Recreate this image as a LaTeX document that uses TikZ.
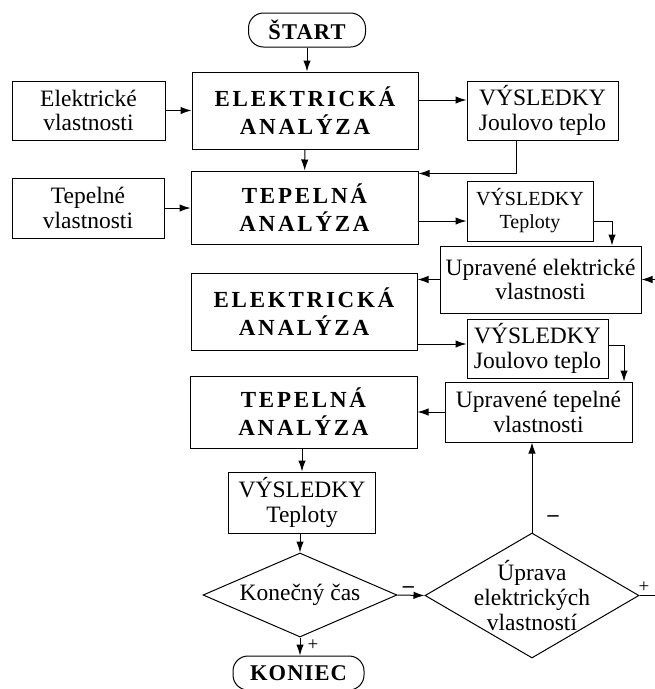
\documentclass[tikz,border=0pt]{standalone}
\usepackage{fontspec}
\setmainfont{Liberation Serif}
\newfontfamily\headfont[LetterSpace=12]{Liberation Serif}
\newfontfamily\termfont[LetterSpace=5]{Liberation Serif}
\usetikzlibrary{arrows.meta,shapes.geometric,calc,positioning}
\tikzset{
  box/.style 2 args={draw, line width=1pt, align=center, inner sep=0pt,
              minimum width=#1, minimum height=#2,
              font=\fontsize{23.5}{24.5}\selectfont},
  ana/.style 2 args={box={#1}{#2},
              font=\headfont\bfseries\fontsize{23}{28}\selectfont},
  term/.style={draw, line width=1pt, rounded corners=15pt, inner sep=0pt,
              minimum width=#1, minimum height=34pt,
              font=\termfont\bfseries\fontsize{22.5}{24}\selectfont},
  dia/.style 2 args={draw, diamond, line width=1pt, inner sep=0pt,
              minimum width=#1, minimum height=#2},
  dtxt/.style={align=center, font=\fontsize{23.5}{25}\selectfont},
  arr/.style={-{Latex[length=11pt,width=7.5pt]}, line width=1pt},
  sgn/.style={font=\fontsize{19}{19}\selectfont, inner sep=1pt},
}

\begin{document}
\begin{tikzpicture}[x=1pt, y=-1pt]
\useasboundingbox (0,0) rectangle (655,689);
\clip (0,0) rectangle (655,689);

% ---------------- start, first pass --------------------------------------
\node[term=117pt] (start) at (307,30) {ŠTART};
\node[ana={226pt}{77pt}] (ea1) at (305,110.5) {ELEKTRICKÁ\\ANALÝZA};
\node[box={153pt}{59pt}] (ev) at (88.5,110.5) {Elektrické\\vlastnosti};
\node[box={151pt}{59pt}] (vy1) at (542.5,110.5) {VÝSLEDKY\\Joulovo teplo};
\node[ana={227pt}{73pt}] (ta1) at (304.5,207.5) {TEPELNÁ\\ANALÝZA};
\node[box={152pt}{60pt}] (tv) at (88,208) {Tepelné\\vlastnosti};
\node[box={126pt}{60pt}, font=\fontsize{20}{23}\selectfont] (vt1)
   at (530,211) {VÝSLEDKY\\Teploty};

\draw[arr] (start) -- (start |- ea1.north);
\draw[arr] (ev) -- (ev -| ea1.west);
\draw[arr] ([yshift=10.5]ea1.east) -- ([yshift=10.5]ea1.east -| vy1.west);
\draw[arr] ([xshift=-26]vy1.south) |- ([yshift=-3]ta1.north east);
\draw[arr] (ea1) -- (ta1);
\draw[arr] (tv) -- (tv -| ta1.west);
\draw[arr] ([yshift=-10]vt1.west -| ta1.east) -- ([yshift=-10]vt1.west);

% ---------------- corrected properties, second pass ----------------------
\node[box={201pt}{67pt}] (ue) at (540.5,279.5) {Upravené elektrické\\vlastnosti};
\node[ana={226pt}{77pt}] (ea2) at (304,311.5) {ELEKTRICKÁ\\ANALÝZA};
\node[box={141pt}{59pt}] (vy2) at (537.5,348.5) {VÝSLEDKY\\Joulovo teplo};
\node[box={187pt}{60pt}] (ut) at (538.5,412) {Upravené tepelné\\vlastnosti};
\node[ana={227pt}{72pt}] (ta2) at (303.5,412) {TEPELNÁ\\ANALÝZA};
\node[box={147pt}{61pt}] (vt2) at (302,502.5) {VÝSLEDKY\\Teploty};

\draw[arr] ([yshift=-10]vt1.east) -| ([xshift=71.5]ue.north);
\draw[arr] (ue.west) -- (ue.west -| ea2.east);
\draw[arr] ([yshift=4.5]vy2.west -| ea2.east) -- ([yshift=4.5]vy2.west);
\draw[arr] ([yshift=3.5]vy2.east) -| ([xshift=85.5]ut.north);
\draw[arr] (ut) -- (ut -| ta2.east);
\draw[arr] (vt2.north |- ta2.south) -- (vt2.north);

% ---------------- decisions ----------------------------------------------
\node[dia={194pt}{84pt}, label={[dtxt]center:Konečný čas}] (kc) at (300,595) {};
\node[dia={214pt}{125pt},
      label={[dtxt]center:Úprava\\elektrických\\vlastností}] (up) at (532,595.5) {};
\node[term=131pt] (end) at (298.5,673) {KONIEC};

\draw[arr] (vt2.south -| kc.north) -- (kc.north);
\draw[arr] (kc.south) -- (kc.south |- end.north)
   node[sgn, pos=0.45, right=6pt] (plusa) {+};
\draw[arr] (kc.east) -- (up.west)
   node[sgn, pos=0.4, above=1pt, font=\fontsize{22}{22}\bfseries] (minusa) {–};
\draw[arr] (up.north) -- (up.north |- ut.south)
   node[sgn, pos=0.15, right=14pt, font=\fontsize{22}{22}\bfseries] (minusb) {–};
\draw[arr] (up.east) -- ++(40,0) |- (ue.east);
\node[sgn, above right=2pt and -2pt of up.east] (plusb) {+};
\end{tikzpicture}
\end{document}
